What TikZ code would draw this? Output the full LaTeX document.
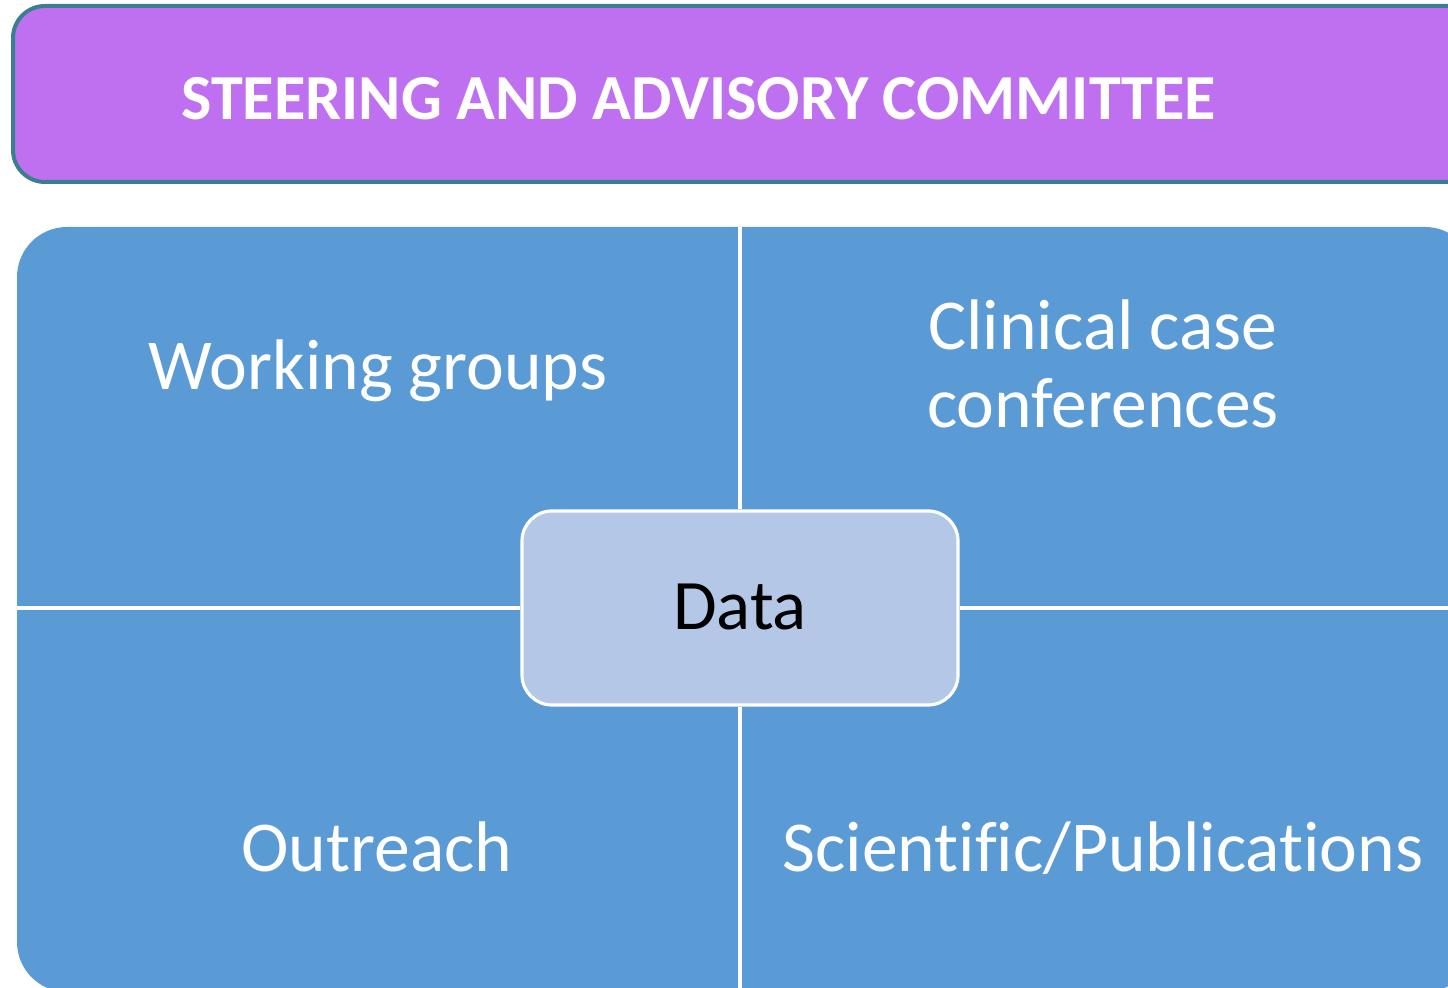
\documentclass[tikz,border=0pt]{standalone}
\usepackage{fontspec}
\setmainfont{Carlito}[Ligatures=NoCommon]
\definecolor{banner}{HTML}{BF70F0}
\definecolor{bannerline}{HTML}{3A7F8E}
\definecolor{quad}{HTML}{5B9BD5}
\definecolor{datafill}{HTML}{B4C7E7}
\tikzset{
  quadlabel/.style={text=white, font=\fontsize{35.8}{39}\selectfont, align=center, inner sep=0pt},
  gap/.style={white, line width=1.6pt},
}
\begin{document}
\begin{tikzpicture}[x=0.5pt, y=-0.5pt]
    \useasboundingbox (0,0) rectangle (1448,988);

    % Committee banner
    \draw[bannerline, fill=banner, line width=2pt, rounded corners=16pt] (13,6) rectangle (1480,182);
    \node[anchor=base west, text=white, inner sep=0pt, font=\bfseries\fontsize{32.1}{39}\selectfont] (title) at (181,120) {STEERING AND ADVISORY COMMITTEE};

    % Quadrants
    \fill[quad, rounded corners=25pt] (17,227) rectangle (1475,992);
    \coordinate (top) at (740,227);
    \coordinate (bottom) at (740,992);
    \coordinate (left) at (17,608);
    \coordinate (right) at (1475,608);

    % Data in the middle
    \node[draw=white, line width=1.6pt, fill=datafill, rounded corners=15pt, minimum width=218pt, minimum height=97pt] (data) at (740,608) {};
    \node[anchor=base, inner sep=0pt, font=\fontsize{35.5}{40}\selectfont] (datatext) at (740,630) {Data};

    % Gaps between quadrants
    \draw[gap] (data.north) -- (top);
    \draw[gap] (data.south) -- (bottom);
    \draw[gap] (data.west) -- (left);
    \draw[gap] (data.east) -- (right);

    % Quadrant labels
    \node[quadlabel, anchor=base] (wg) at (378,390) {Working groups};
    \node[quadlabel, anchor=base] (ccc) at (1103,428) {Clinical case\\conferences};
    \node[quadlabel, anchor=base] (out) at (377,872) {Outreach};
    \node[quadlabel, anchor=base] (sci) at (1103,872) {Scientific/Publications};
\end{tikzpicture}
\end{document}
